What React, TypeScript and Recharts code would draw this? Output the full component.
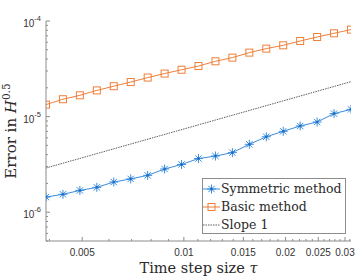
import React from 'react';
import { LineChart, Line, XAxis, YAxis, Legend } from 'recharts';

// time step sizes (tau) and errors
const tauValues = [
  0.00390625, 0.0043846, 0.0049216, 0.0055243, 0.0062008, 0.0069602, 0.0078125,
  0.0087693, 0.0098431, 0.0110485, 0.0124016, 0.0139204, 0.015625, 0.0175386,
  0.0196863, 0.0220971, 0.0248031, 0.027841, 0.03125,
];
const symmetricErr = [
  1.44e-6, 1.54e-6, 1.69e-6, 1.82e-6, 2.07e-6, 2.23e-6, 2.43e-6, 2.83e-6, 3.16e-6,
  3.64e-6, 3.87e-6, 4.2e-6, 5.13e-6, 6.15e-6, 7.02e-6, 7.98e-6, 8.78e-6, 1.075e-5, 1.19e-5,
];
const basicErr = [
  1.335e-5, 1.52e-5, 1.67e-5, 1.88e-5, 2.08e-5, 2.3e-5, 2.56e-5, 2.82e-5, 3.09e-5,
  3.38e-5, 3.79e-5, 4.14e-5, 4.67e-5, 5.14e-5, 5.57e-5, 6.18e-5, 6.8e-5, 7.44e-5, 8.13e-5,
];
const slopeTau = [0.00390625, 0.03125];
const slopeErr = [2.9e-6, 2.32e-5];

const xMajorTicks = [0.005, 0.01, 0.015, 0.02, 0.025, 0.03];
const xMinorTicks = [
  0.004, 0.006, 0.007, 0.008, 0.009, 0.011, 0.012, 0.013, 0.014, 0.016, 0.017, 0.018,
  0.019, 0.021, 0.022, 0.023, 0.024, 0.026, 0.027, 0.028, 0.029, 0.031,
];
const yMajorTicks = [1e-6, 1e-5, 1e-4];
const yMinorTicks = [
  5e-7, 6e-7, 7e-7, 8e-7, 9e-7, 2e-6, 3e-6, 4e-6, 5e-6, 6e-6, 7e-6, 8e-6, 9e-6,
  2e-5, 3e-5, 4e-5, 5e-5, 6e-5, 7e-5, 8e-5, 9e-5,
];

const symmetricData = tauValues.map((tau, i) => ({ tau, err: symmetricErr[i] }));
const basicData = tauValues.map((tau, i) => ({ tau, err: basicErr[i] }));
const slopeData = slopeTau.map((tau, i) => ({ tau, err: slopeErr[i] }));

const BLUE = '#3a8dde';
const ORANGE = '#ef7f3a';
const AXIS = '#8c8c8c';
const LABEL = '#333';
const TEXT = '#2a2a2a';
const SERIF = '"DejaVu Serif", serif';
const SANS = '"Liberation Sans", Arial, sans-serif';

const allX = [...xMajorTicks, ...xMinorTicks].sort((a, b) => a - b);
const allY = [...yMajorTicks, ...yMinorTicks].sort((a, b) => a - b);

const Asterisk = ({ cx, cy, r = 4.5 }: { cx: number; cy: number; r?: number }) => {
  const d = r * 0.707;
  return (
    <g stroke={BLUE} strokeWidth={1}>
      <line x1={cx - r} y1={cy} x2={cx + r} y2={cy} />
      <line x1={cx} y1={cy - r} x2={cx} y2={cy + r} />
      <line x1={cx - d} y1={cy - d} x2={cx + d} y2={cy + d} />
      <line x1={cx - d} y1={cy + d} x2={cx + d} y2={cy - d} />
      <circle cx={cx} cy={cy} r={1.3} fill="#1f6cc0" stroke="none" />
    </g>
  );
};

const Square = ({ cx, cy, s = 7 }: { cx: number; cy: number; s?: number }) => (
  <rect x={cx - s / 2} y={cy - s / 2} width={s} height={s} fill="none" stroke={ORANGE} strokeWidth={1} />
);

const BottomTick = (props: any) => {
  const { x, y, payload } = props;
  const major = xMajorTicks.includes(payload.value);
  return (
    <g>
      <line x1={x} y1={y} x2={x} y2={y - (major ? 4 : 2)} stroke={AXIS} />
      {major && (
        <text x={x} y={y + 15} textAnchor="middle" fontSize={10} fontFamily={SANS} fill={LABEL}>
          {String(payload.value)}
        </text>
      )}
    </g>
  );
};

const TopTick = (props: any) => {
  const { x, y, payload } = props;
  const major = xMajorTicks.includes(payload.value);
  return <line x1={x} y1={y} x2={x} y2={y + (major ? 4 : 2)} stroke={AXIS} />;
};

const LeftTick = (props: any) => {
  const { x, y, payload } = props;
  const major = yMajorTicks.includes(payload.value);
  const exp = Math.round(Math.log10(payload.value));
  return (
    <g>
      <line x1={x} y1={y} x2={x + (major ? 4 : 2)} y2={y} stroke={AXIS} />
      {major && (
        <text x={x - 5} y={y + 6} textAnchor="end" fontSize={10} fontFamily={SANS} fill={LABEL}>
          10
          <tspan dy={-6} fontSize={7.5}>{`-${Math.abs(exp)}`}</tspan>
        </text>
      )}
    </g>
  );
};

const RightTick = (props: any) => {
  const { x, y, payload } = props;
  const major = yMajorTicks.includes(payload.value);
  return <line x1={x} y1={y} x2={x - (major ? 4 : 2)} y2={y} stroke={AXIS} />;
};

const legendItems = [
  { name: 'Symmetric method', kind: 'sym' },
  { name: 'Basic method', kind: 'basic' },
  { name: 'Slope 1', kind: 'slope' },
];

const renderLegend = () => (
  <div
    style={{
      width: 144,
      height: 56,
      boxSizing: 'border-box',
      border: `1px solid ${AXIS}`,
      background: '#fff',
      paddingTop: 1,
    }}
  >
    {legendItems.map((it) => (
      <div key={it.name} style={{ display: 'flex', alignItems: 'center', height: 18 }}>
        <svg width={18} height={18} style={{ flex: 'none' }}>
          {it.kind === 'sym' && (
            <>
              <line x1={0} y1={9} x2={17} y2={9} stroke={BLUE} />
              <Asterisk cx={8.5} cy={9} />
            </>
          )}
          {it.kind === 'basic' && (
            <>
              <line x1={0} y1={9} x2={17} y2={9} stroke={ORANGE} />
              <Square cx={8.5} cy={9} />
            </>
          )}
          {it.kind === 'slope' && (
            <line x1={0} y1={9} x2={17} y2={9} stroke="#333" strokeWidth={0.8} strokeDasharray="1.5 1" />
          )}
        </svg>
        <span style={{ fontFamily: SERIF, fontSize: 12.5, color: TEXT, lineHeight: '18px' }}>{it.name}</span>
      </div>
    ))}
  </div>
);

export default function App() {
  return (
    <div style={{ position: 'absolute', left: 0, top: 0, background: '#fff' }}>
      <LineChart width={357} height={278} margin={{ top: 21, right: 6, bottom: 0, left: 0 }}>
        <XAxis
          dataKey="tau"
          type="number"
          scale="log"
          domain={[0.00390625, 0.03125]}
          allowDataOverflow
          ticks={allX}
          interval={0}
          height={37}
          tickSize={0}
          tickMargin={0}
          tick={BottomTick}
          stroke={AXIS}
          label={{
            content: (p: any) => (
              <text
                x={p.viewBox.x + p.viewBox.width / 2}
                y={p.viewBox.y + 32}
                textAnchor="middle"
                fontFamily={SERIF}
                fontSize={14.5}
                fill={TEXT}
              >
                Time step size <tspan fontStyle="italic">τ</tspan>
              </text>
            ),
          }}
        />
        <XAxis
          xAxisId="top"
          orientation="top"
          dataKey="tau"
          type="number"
          scale="log"
          domain={[0.00390625, 0.03125]}
          allowDataOverflow
          ticks={allX}
          interval={0}
          height={0}
          tickSize={0}
          tickMargin={0}
          tick={TopTick}
          stroke={AXIS}
          label={{
            content: (p: any) => (
              <text
                x={p.viewBox.x + p.viewBox.width / 2}
                y={13}
                textAnchor="middle"
                fontFamily={SERIF}
                fontSize={14}
                fill={TEXT}
              >
                <tspan fontStyle="italic">s</tspan> = 0.5
              </text>
            ),
          }}
        />
        <YAxis
          type="number"
          scale="log"
          domain={[5e-7, 1e-4]}
          allowDataOverflow
          ticks={allY}
          interval={0}
          width={46}
          tickSize={0}
          tickMargin={0}
          tick={LeftTick}
          stroke={AXIS}
          label={{
            content: (p: any) => {
              const cx = 16;
              const cy = p.viewBox.y + p.viewBox.height / 2;
              return (
                <text
                  x={cx}
                  y={cy}
                  transform={`rotate(-90 ${cx} ${cy})`}
                  textAnchor="middle"
                  fontFamily={SERIF}
                  fontSize={15}
                  fill={TEXT}
                >
                  Error in <tspan fontStyle="italic">H</tspan>
                  <tspan dy={-6} fontSize={10.5}>0.5</tspan>
                </text>
              );
            },
          }}
        />
        <YAxis
          yAxisId="right"
          orientation="right"
          type="number"
          scale="log"
          domain={[5e-7, 1e-4]}
          allowDataOverflow
          ticks={allY}
          interval={0}
          width={0}
          tickSize={0}
          tickMargin={0}
          tick={RightTick}
          stroke={AXIS}
        />
        <Line
          data={slopeData}
          dataKey="err"
          name="Slope 1"
          stroke="#333"
          strokeWidth={0.8}
          strokeDasharray="1.5 1"
          dot={false}
          isAnimationActive={false}
        />
        <Line
          data={basicData}
          dataKey="err"
          name="Basic method"
          stroke={ORANGE}
          strokeWidth={1}
          dot={(p: any) => <Square key={`b-${p.index}`} cx={p.cx} cy={p.cy} />}
          isAnimationActive={false}
        />
        <Line
          data={symmetricData}
          dataKey="err"
          name="Symmetric method"
          stroke={BLUE}
          strokeWidth={1}
          dot={(p: any) => <Asterisk key={`s-${p.index}`} cx={p.cx} cy={p.cy} />}
          isAnimationActive={false}
        />
        <Legend
          layout="vertical"
          align="center"
          verticalAlign="middle"
          content={renderLegend}
          wrapperStyle={{ left: 202, top: 178, width: 144, height: 56 }}
        />
      </LineChart>
    </div>
  );
}
